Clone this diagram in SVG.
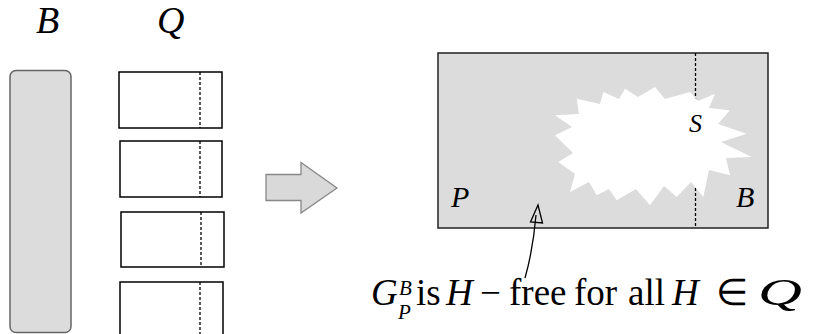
<svg xmlns="http://www.w3.org/2000/svg" width="819" height="334" viewBox="0 0 819 334">
<defs>
<style>
.t{font-family:"Liberation Serif","Times New Roman",serif;fill:#000}
.i{font-style:italic}
.q{fill:#fff;stroke:#000;stroke-width:1.5}
.d{stroke:#000;stroke-width:1.3;stroke-dasharray:3 2;fill:none}
</style>
</defs>
<rect width="819" height="334" fill="#fff"/>
<g id="labelB"><text class="t i" x="36" y="33" font-size="38">B</text></g>
<g id="labelQ"><text class="t i" x="157" y="33" font-size="38">Q</text></g>
<g id="bar"><rect x="10" y="70.5" width="61" height="262" rx="6" fill="#dcdcdc" stroke="#666" stroke-width="1.5"/></g>
<g id="q1"><rect class="q" x="119" y="72" width="103" height="56"/><line class="d" x1="200" y1="72" x2="200" y2="128"/></g>
<g id="q2"><rect class="q" x="120" y="141" width="102" height="56"/><line class="d" x1="200" y1="141" x2="200" y2="197"/></g>
<g id="q3"><rect class="q" x="121" y="212" width="103" height="55"/><line class="d" x1="201" y1="212" x2="201" y2="267"/></g>
<g id="q4"><rect class="q" x="120" y="282" width="103" height="56"/><line class="d" x1="200" y1="282" x2="200" y2="334"/></g>
<g id="bigArrow"><polygon points="266,174.5 301,174.5 301,162.5 337,188 301,213 301,200.5 266,200.5" fill="#d9d9d9" stroke="#888" stroke-width="1.3"/></g>
<g id="graph">
<rect x="438" y="53" width="330" height="175" fill="#dcdcdc" stroke="#222" stroke-width="1.5"/>
<line class="d" x1="695.5" y1="53" x2="695.5" y2="228"/>
<polygon fill="#fff" points="555,115.3 579,114 576.7,98.7 600,104 603.3,92 619,99 625,88.7 638,97 655,87 665,99 690,92 698,101 715,93.7 709,108 730,110.3 718,124 746.7,133.7 721,142 751.7,157 726,158 730,175.3 709,170 703.3,197 691,182 676.7,197 664,186 650,205.3 636,189 616.7,200.3 609,189 596.7,195.3 589,182 570,192 575,174 558.3,162 573,153 555,135.3 572,127"/>
<text class="t i" x="689" y="132" font-size="26">S</text>
<text class="t i" x="451" y="207" font-size="30">P</text>
<text class="t i" x="736" y="207" font-size="30">B</text>
</g>
<g id="connectors">
<path d="M525,278 Q533,250 536,215" fill="none" stroke="#000" stroke-width="1.3"/>
<polygon points="538,205 542.5,223 530.5,222" fill="none" stroke="#000" stroke-width="1.3"/>
</g>
<g id="caption">
<text class="t i" x="371" y="305" font-size="37">G</text>
<text class="t i" x="399" y="295" font-size="21">B</text>
<text class="t i" x="398" y="319" font-size="21">P</text>
<text class="t" x="416" y="305" font-size="37">is</text>
<text class="t i" x="446" y="305" font-size="37">H</text>
<text class="t" x="480" y="305" font-size="37">−</text>
<text class="t" x="509" y="305" font-size="37">free</text>
<text class="t" x="574" y="305" font-size="37">for</text>
<text class="t" x="628" y="305" font-size="37">all</text>
<text class="t i" x="672" y="305" font-size="37">H</text>
<text class="t" x="716" y="305" font-size="37">∈</text>
<text class="t i" x="758" y="305" font-size="38" textLength="44" lengthAdjust="spacingAndGlyphs">Q</text>
</g>
</svg>
